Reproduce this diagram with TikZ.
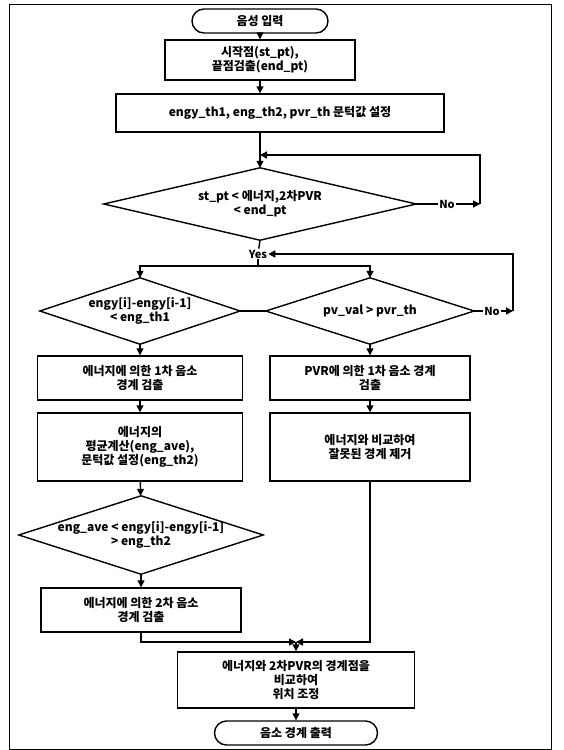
\documentclass[tikz,border=0pt]{standalone}
\usepackage{fontspec}
\setmainfont{Noto Sans CJK KR}
\usepackage{tikz}
\usetikzlibrary{arrows.meta, positioning, shapes.misc}

\begin{document}
\begin{tikzpicture}[x=1pt, y=-1pt,
    proc/.style={draw, line width=1.4pt, align=center, font=\bfseries\fontsize{12}{14}\selectfont,
                inner sep=2pt},
    term/.style={proc, rounded rectangle, minimum height=24pt},
    decis/.style={align=center, inner sep=0pt, font=\bfseries\fontsize{12}{14}\selectfont},
    lbl/.style={font=\bfseries\fontsize{11}{13}\selectfont, inner sep=1pt},
    line/.style={line width=1.4pt},
    arr/.style={-{Triangle[length=7pt, width=7pt]}, line width=1.4pt},
  ]
    \useasboundingbox (0,0) rectangle (564,750);
    \draw[line width=0.8pt] (9,4) rectangle (551,749);

    % top column
    \node[term, minimum width=140pt] (inp) at (260,21) {음성 입력};
    \node[proc, minimum width=190pt, minimum height=40pt] (ept) at (260,60)
      {시작점(st\_pt),\\끝점검출(end\_pt)};
    \node[proc, minimum width=328pt, minimum height=38pt] (thr) at (280,113)
      {engy\_th1, eng\_th2, pvr\_th 문턱값 설정};
    \node[decis, minimum width=312pt, minimum height=72pt] (rng) at (260,204)
      {st\_pt < 에너지,2차PVR\\< end\_pt};
    \coordinate (mrg) at (260,155);
    \coordinate (lpa) at (480,155);
    \node[lbl, fill=white] (noa) at (447,204) {No};
    \node[lbl] (yes) at (258,254) {Yes};
    \coordinate (br) at (258,266);

    % two branches
    \node[decis, minimum width=200pt, minimum height=66pt] (den) at (140,311)
      {engy[i]-engy[i-1]\\< eng\_th1};
    \node[decis, minimum width=208pt, minimum height=66pt] (dpv) at (370,311)
      {pv\_val > pvr\_th};
    \node[lbl, fill=white] (nob) at (492,311) {No};
    \coordinate (lpb) at (513,311);

    \node[proc, minimum width=205pt, minimum height=44pt] (en1) at (140,378)
      {에너지에 의한 1차 음소\\경계 검출};
    \node[proc, minimum width=200pt, minimum height=44pt] (pv1) at (370,378)
      {PVR에 의한 1차 음소 경계\\검출};
    \node[proc, minimum width=205pt, minimum height=68pt] (ave) at (140,447)
      {에너지의\\평균계산(eng\_ave),\\문턱값 설정(eng\_th2)};
    \node[proc, minimum width=200pt, minimum height=68pt] (rem) at (370,447)
      {에너지와 비교하여\\잘못된 경계 제거};
    \node[decis, minimum width=244pt, minimum height=78pt] (den2) at (141,535)
      {eng\_ave < engy[i]-engy[i-1]\\> eng\_th2};
    \node[proc, minimum width=200pt, minimum height=44pt] (en2) at (141,610)
      {에너지에 의한 2차 음소\\경계 검출};

    % merge and output
    \coordinate (mg) at (296,642);
    \node[proc, minimum width=237pt, minimum height=56pt] (adj) at (296,680)
      {에너지와 2차PVR의 경계점을\\비교하여\\위치 조정};
    \node[term, minimum width=167pt] (out) at (296,733) {음소 경계 출력};

    % decision outlines
    \foreach \d in {rng, den, dpv, den2}
      \draw[line, line join=miter] (\d.west) -- (\d.north) -- (\d.east) -- (\d.south) -- cycle;

    \draw[arr] (inp) -- (ept);
    \draw[arr] (ept.south) -- (ept.south |- thr.north);
    \draw[arr] (ept.south |- thr.south) -- (rng.north);
    \draw[line] (rng.east) -- (noa);
    \draw[arr] (noa) -- (noa -| lpa);
    \draw[arr] (noa -| lpa) -- (lpa) -- (mrg);
    \draw[line] (rng.south) -- (yes);
    \draw[line] (yes) -- (br);
    \draw[arr] (br) -| (den.north);
    \draw[arr] (br) -| (dpv.north);
    \draw[line] (den.east) -- (dpv.west);
    \draw[line] (dpv.east) -- (nob);
    \draw[arr] (nob) -- (lpb);
    \draw[arr] (lpb) |- (yes.east);
    \draw[arr] (den) -- (en1);
    \draw[arr] (dpv) -- (pv1);
    \draw[arr] (en1) -- (ave);
    \draw[arr] (pv1) -- (rem);
    \draw[arr] (ave) -- (den2);
    \draw[arr] (den2) -- (en2);
    \draw[arr] (en2.south) |- (mg);
    \draw[arr] (rem.south) |- (mg);
    \draw[arr] (mg) -- (adj);
    \draw[arr] (adj) -- (out);
  \end{tikzpicture}
\end{document}
